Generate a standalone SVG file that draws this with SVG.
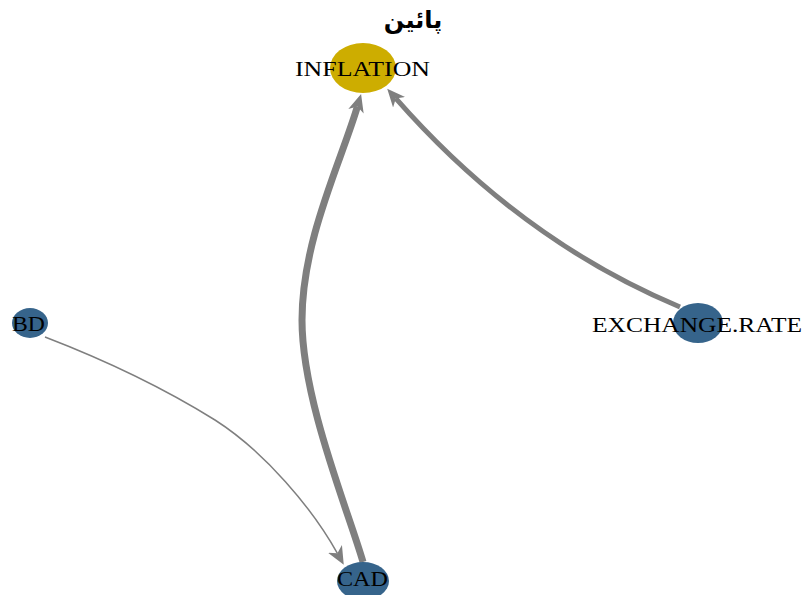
<svg xmlns="http://www.w3.org/2000/svg" width="805" height="595" viewBox="0 0 805 595">
<style>
.edge{fill:none;stroke:#7f7f7f;}
.lbl{font-family:"Liberation Serif","Times New Roman",serif;font-size:20px;fill:#000;}
.title{font-family:"DejaVu Sans","Noto Sans",sans-serif;font-size:24px;font-weight:bold;fill:#000;}
.blue{fill:#36648b;}
.gold{fill:#cdad00;}
</style>
<defs>
<marker id="arr" viewBox="0 -9 19 18" markerWidth="19" markerHeight="18" refX="5" refY="0" orient="auto" markerUnits="userSpaceOnUse">
<path d="M0,-8 L18,0 L0,8 L5,0 Z" fill="#7f7f7f"/>
</marker>
</defs>
<rect width="805" height="595" fill="#fff"/>
<text class="title" x="413" y="28" text-anchor="middle">پائین</text>
<g id="connectors">
<path class="edge" style="stroke-width:7" d="M363,562 C348,510 302,400 302,320 C302,240 341,162 357.4,106.5" marker-end="url(#arr)"/>
<path class="edge" style="stroke-width:5" d="M680,307 Q520,240 395.8,98.4" marker-end="url(#arr)"/>
<path class="edge" style="stroke-width:1.5" d="M45,337 C110,362 170,392 215,420 C265,452 312,508 337.4,553.3" marker-end="url(#arr)"/>
</g>
<g id="node-INFLATION">
<ellipse class="gold" cx="363" cy="68" rx="33" ry="25"/>
<text class="lbl" x="295" y="76" textLength="135" lengthAdjust="spacingAndGlyphs">INFLATION</text>
</g>
<g id="node-BD">
<ellipse class="blue" cx="30" cy="323" rx="18" ry="15"/>
<text class="lbl" x="12" y="331" textLength="33" lengthAdjust="spacingAndGlyphs">BD</text>
</g>
<g id="node-EXCHANGE.RATE">
<ellipse class="blue" cx="698" cy="323" rx="25" ry="20"/>
<text class="lbl" x="592" y="332" textLength="210" lengthAdjust="spacingAndGlyphs">EXCHANGE.RATE</text>
</g>
<g id="node-CAD">
<ellipse class="blue" cx="363" cy="581" rx="26" ry="19"/>
<text class="lbl" x="337" y="586" textLength="51" lengthAdjust="spacingAndGlyphs">CAD</text>
</g>
</svg>
